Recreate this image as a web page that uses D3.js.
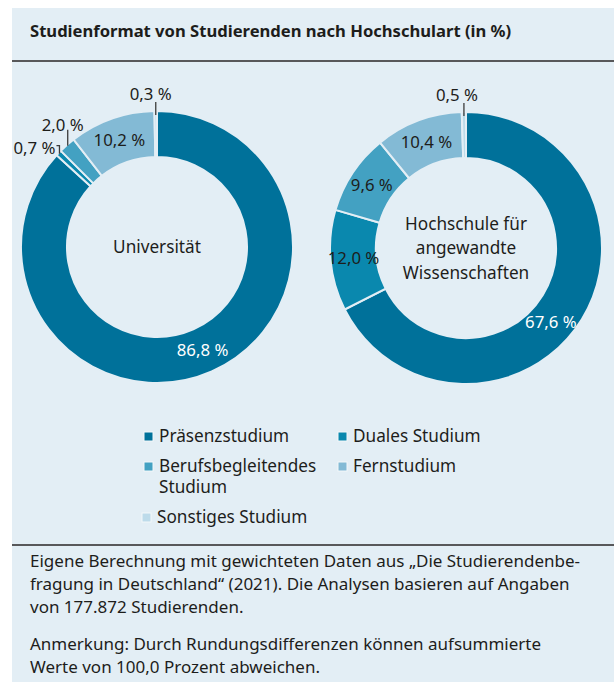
<!DOCTYPE html>
<html>
<head>
<meta charset="utf-8">
<script src="https://cdn.jsdelivr.net/npm/d3@7"></script>
<style>
    body { margin: 0; background: #fff; }
    svg { display: block; font-family: "Noto Sans", sans-serif; }
</style>
</head>
<body>
<div class="chart"></div>
<script>
const WIDTH = 614;
const HEIGHT = 682;
const BG = "#e3eef5";
const INK = "#1d1d1b";

var categories = ["Präsenzstudium", "Duales Studium", "Berufsbegleitendes Studium", "Fernstudium", "Sonstiges Studium"];
var colors = ["#00719a", "#0a88ae", "#43a1c2", "#83bad5", "#bddbea"];
var universitaet = [86.8, 0.7, 2.0, 10.2, 0.3];
var hochschule = [67.6, 12.0, 9.6, 10.4, 0.5];
var chartTitles = [["Universität"], ["Hochschule für", "angewandte", "Wissenschaften"]];

var title = "Studienformat von Studierenden nach Hochschulart (in %)";
var notes = [
    ["Eigene Berechnung mit gewichteten Daten aus „Die Studierendenbe-",
     "fragung in Deutschland“ (2021). Die Analysen basieren auf Angaben",
     "von 177.872 Studierenden."],
    ["Anmerkung: Durch Rundungsdifferenzen können aufsummierte",
     "Werte von 100,0 Prozent abweichen."]
];

var de = d3.formatLocale({decimal: ",", thousands: ".", grouping: [3], currency: ["", " €"]});
var fmt = function (v) { return de.format(".1f")(v) + " %"; };

var OUTER = 136, INNER = 90;

// labels of thin slices sit outside, with a short leader
var outside = {
    "0-1": {r: OUTER - 1, pts: [[0, -8], [-3, -8]], tx: -4, ty: 0, anchor: "end"},
    "0-2": {r: OUTER - 1, pts: [[0, -16]], tx: -5, ty: -15, anchor: "middle"},
    "0-4": {r: OUTER - 4, pts: [[0, -13]], tx: -5, ty: -15, anchor: "middle"},
    "1-4": {r: OUTER - 4, pts: [[0, -13]], tx: -7, ty: -15, anchor: "middle"}
};
var nudge = {"1-0": 0.17};

var svg = d3.select(".chart").append("svg")
    .attr("width", WIDTH)
    .attr("height", HEIGHT);

svg.append("rect")
    .attr("x", 12).attr("y", 8)
    .attr("width", WIDTH - 12).attr("height", HEIGHT - 8)
    .attr("fill", BG);

svg.append("text")
    .attr("x", 30).attr("y", 37)
    .attr("font-size", 16.6).attr("font-weight", 700)
    .attr("fill", INK)
    .text(title);

[61, 545].forEach(function (y) {
    svg.append("line")
        .attr("x1", 12).attr("x2", WIDTH)
        .attr("y1", y).attr("y2", y)
        .attr("stroke", "#58585a").attr("stroke-width", 2);
});

var pie = d3.pie().sort(null).value(function (d) { return d; });
var arc = d3.arc().innerRadius(INNER).outerRadius(OUTER);
var labelArc = d3.arc().innerRadius(113).outerRadius(113);

var drawDonut = function (values, k, cx, cy) {
    var g = svg.append("g").attr("transform", "translate(" + cx + "," + cy + ")");
    var slices = pie(values);

    g.selectAll("path")
        .data(slices)
        .enter()
        .append("path")
        .attr("d", arc)
        .attr("fill", function (d, i) { return colors[i]; })
        .attr("stroke", BG)
        .attr("stroke-width", 2);

    slices.forEach(function (d, i) {
        var key = k + "-" + i;
        var mid = (d.startAngle + d.endAngle) / 2;
        if (outside[key]) {
            var o = outside[key];
            var p = [o.r * Math.sin(mid), -o.r * Math.cos(mid)];
            var path = d3.path();
            path.moveTo(p[0], p[1]);
            o.pts.forEach(function (q) { path.lineTo(p[0] + q[0], p[1] + q[1]); });
            g.append("path")
                .attr("d", path.toString())
                .attr("fill", "none")
                .attr("stroke", "#3c3c3b")
                .attr("stroke-width", 1.3);
            g.append("text")
                .attr("x", p[0] + o.tx).attr("y", p[1] + o.ty)
                .attr("text-anchor", o.anchor)
                .attr("font-size", 16.8)
                .attr("fill", INK)
                .text(fmt(d.data));
        } else {
            var a = mid + (nudge[key] || 0);
            var c = labelArc.centroid({startAngle: a, endAngle: a});
            g.append("text")
                .attr("x", c[0]).attr("y", c[1])
                .attr("dy", "0.35em")
                .attr("text-anchor", "middle")
                .attr("font-size", 16.8)
                .attr("fill", i === 0 ? "#fff" : INK)
                .text(fmt(d.data));
        }
    });

    var lines = chartTitles[k];
    g.selectAll(".center")
        .data(lines)
        .enter()
        .append("text")
        .attr("class", "center")
        .attr("x", 0)
        .attr("y", function (d, i) { return (i - (lines.length - 1) / 2) * 24.5; })
        .attr("dy", "0.35em")
        .attr("text-anchor", "middle")
        .attr("font-size", 17.2)
        .attr("fill", INK)
        .text(function (d) { return d; });
};

drawDonut(universitaet, 0, 157, 247);
drawDonut(hochschule, 1, 466, 248);

// legend
var legendPos = [[144, 442], [338, 442], [144, 472], [338, 472], [142, 523]];
var legendText = [["Präsenzstudium"], ["Duales Studium"], ["Berufsbegleitendes", "Studium"], ["Fernstudium"], ["Sonstiges Studium"]];

categories.forEach(function (c, i) {
    var lg = svg.append("g").attr("transform", "translate(" + legendPos[i][0] + "," + legendPos[i][1] + ")");
    lg.append("rect")
        .attr("x", 0).attr("y", -10)
        .attr("width", 9).attr("height", 9)
        .attr("fill", colors[i])
        .attr("stroke", "#f3f7fa").attr("stroke-width", 1);
    lg.selectAll("text")
        .data(legendText[i])
        .enter()
        .append("text")
        .attr("x", 15)
        .attr("y", function (d, j) { return j * 21; })
        .attr("font-size", 17.2)
        .attr("fill", INK)
        .text(function (d) { return d; });
});

// notes
var y = 567;
notes.forEach(function (para) {
    para.forEach(function (line) {
        svg.append("text")
            .attr("x", 30).attr("y", y)
            .attr("font-size", 17)
            .attr("fill", INK)
            .text(line);
        y += 23;
    });
    y += 14;
});
</script>
</body>
</html>
